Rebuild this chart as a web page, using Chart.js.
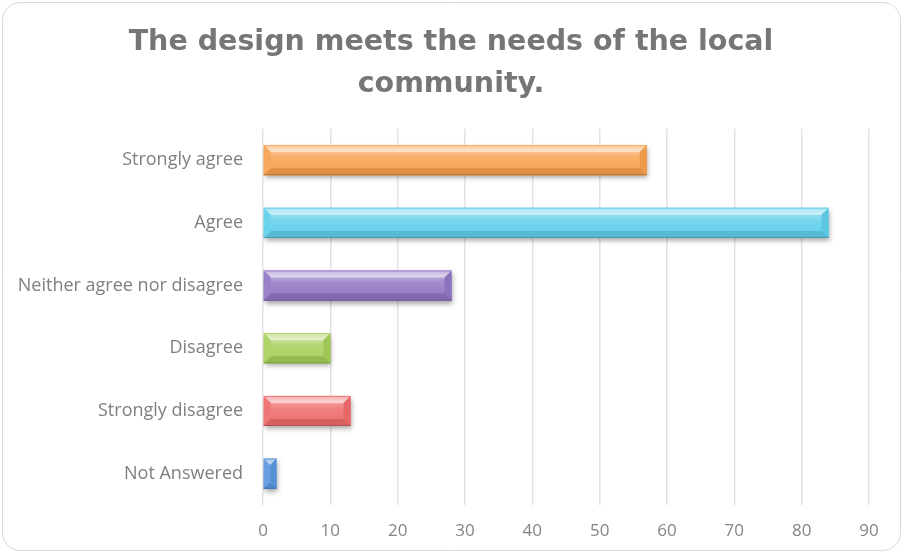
<!DOCTYPE html>
<html>
<head>
<meta charset="utf-8">
<script src="https://cdn.jsdelivr.net/npm/chart.js@4/dist/chart.umd.min.js"></script>
<style>
	html, body { margin: 0; padding: 0; background: #ffffff; }
	canvas { display: block; }
</style>
</head>
<body>
<canvas id="surveyChart" width="902" height="552"></canvas>
<script>
const responses = ['Strongly agree', 'Agree', 'Neither agree nor disagree', 'Disagree', 'Strongly disagree', 'Not Answered'];
const counts = [57, 84, 28, 10, 13, 2];
const axisTicks = [0, 10, 20, 30, 40, 50, 60, 70, 80, 90];
const titleLines = ['The design meets the needs of the local', 'community.'];

const barColors = ['#f7a04e', '#5fcfea', '#9276c4', '#a7cf5a', '#ef6b6b', '#5b97de'];

const mix = (hex, target, t) => {
	const n = parseInt(hex.slice(1), 16);
	const c = [(n >> 16) & 255, (n >> 8) & 255, n & 255];
	const m = c.map((v, i) => Math.round(v + (target[i] - v) * t));
	return `rgb(${m[0]}, ${m[1]}, ${m[2]})`;
};
const lighter = (hex, t) => mix(hex, [255, 255, 255], t);
const darker = (hex, t) => mix(hex, [0, 0, 0], t);

// rounded card outline behind everything
const cardFrame = {
	id: 'cardFrame',
	beforeDraw(chart) {
		const ctx = chart.ctx;
		ctx.save();
		ctx.fillStyle = '#ffffff';
		ctx.fillRect(0, 0, chart.width, chart.height);
		ctx.beginPath();
		ctx.roundRect(2.5, 2.5, chart.width - 4, chart.height - 4, 18);
		ctx.strokeStyle = '#d9d9d9';
		ctx.lineWidth = 1;
		ctx.stroke();
		ctx.restore();
	}
};

// drop shadow under bars, then bevelled faces on top
const bevelBars = {
	id: 'bevelBars',
	beforeDatasetsDraw(chart) {
		const ctx = chart.ctx;
		ctx.save();
		ctx.shadowColor = 'rgba(0, 0, 0, 0.35)';
		ctx.shadowBlur = 5;
		ctx.shadowOffsetX = 1;
		ctx.shadowOffsetY = 3;
	},
	afterDatasetsDraw(chart) {
		const ctx = chart.ctx;
		ctx.restore();
		const meta = chart.getDatasetMeta(0);
		meta.data.forEach((bar, i) => {
			const base = barColors[i];
			const left = Math.min(bar.base, bar.x);
			const right = Math.max(bar.base, bar.x);
			const top = bar.y - bar.height / 2;
			const bottom = bar.y + bar.height / 2;
			const b = Math.min(7, (right - left) / 2);

			const face = ctx.createLinearGradient(0, top, 0, bottom);
			face.addColorStop(0, lighter(base, 0.6));
			face.addColorStop(0.4, lighter(base, 0.15));
			face.addColorStop(1, base);
			ctx.save();
			ctx.fillStyle = face;
			ctx.fillRect(left, top, right - left, bottom - top);

			const poly = (pts, fill) => {
				ctx.beginPath();
				ctx.moveTo(pts[0][0], pts[0][1]);
				pts.slice(1).forEach(p => ctx.lineTo(p[0], p[1]));
				ctx.closePath();
				ctx.fillStyle = fill;
				ctx.fill();
			};
			const topFace = ctx.createLinearGradient(0, top, 0, top + b);
			topFace.addColorStop(0, lighter(base, 0.45));
			topFace.addColorStop(1, lighter(base, 0.72));
			poly([[left, top], [right, top], [right - b, top + b], [left + b, top + b]], topFace);
			poly([[left, bottom], [right, bottom], [right - b, bottom - b], [left + b, bottom - b]], darker(base, 0.1));
			poly([[right, top], [right, bottom], [right - b, bottom - b], [right - b, top + b]], darker(base, 0.04));
			poly([[left, top], [left, bottom], [left + b, bottom - b], [left + b, top + b]], lighter(base, 0.08));

			ctx.strokeStyle = darker(base, 0.25);
			ctx.lineWidth = 1;
			ctx.beginPath();
			ctx.moveTo(left, bottom - 0.5);
			ctx.lineTo(right, bottom - 0.5);
			ctx.stroke();
			ctx.strokeStyle = lighter(base, 0.1);
			ctx.beginPath();
			ctx.moveTo(left, top + 0.5);
			ctx.lineTo(right, top + 0.5);
			ctx.stroke();
			ctx.restore();
		});
	}
};

const ctx = document.getElementById('surveyChart').getContext('2d');
new Chart(ctx, {
	type: 'bar',
	data: {
		labels: responses,
		datasets: [{
			label: 'Responses',
			data: counts,
			backgroundColor: barColors,
			borderWidth: 0,
			categoryPercentage: 0.96,
			barPercentage: 0.5
		}]
	},
	options: {
		indexAxis: 'y',
		responsive: false,
		animation: false,
		layout: {
			padding: { left: 0, right: 0, top: 0, bottom: 13 }
		},
		plugins: {
			legend: { display: false },
			tooltip: { enabled: false },
			title: {
				display: true,
				text: titleLines,
				color: '#767676',
				font: { family: 'DejaVu Sans', size: 28.5, weight: 'bold', lineHeight: 1.47 },
				padding: { top: 22, bottom: 23 }
			}
		},
		scales: {
			x: {
				min: 0,
				max: 90,
				afterBuildTicks: (scale) => {
					scale.ticks = axisTicks.map(v => ({ value: v }));
				},
				afterFit: (scale) => {
					scale.height = 34;
				},
				grid: {
					color: '#e3e3e3',
					lineWidth: 1.5,
					drawTicks: false
				},
				border: { display: false },
				ticks: {
					color: '#858585',
					padding: 16,
					font: { family: 'Open Sans', size: 17 }
				}
			},
			y: {
				afterFit: (scale) => {
					scale.width = 263;
				},
				grid: { display: false, drawTicks: false },
				border: { display: false },
				ticks: {
					color: '#7f7f7f',
					padding: 20,
					font: { family: 'Open Sans', size: 18 }
				}
			},
			// empty strip on the right so the plot stops at 90
			gutter: {
				axis: 'y',
				position: 'right',
				display: true,
				afterFit: (scale) => {
					scale.width = 33;
				},
				grid: { display: false, drawTicks: false },
				border: { display: false },
				ticks: { display: false }
			}
		}
	},
	plugins: [cardFrame, bevelBars]
});
</script>
</body>
</html>
